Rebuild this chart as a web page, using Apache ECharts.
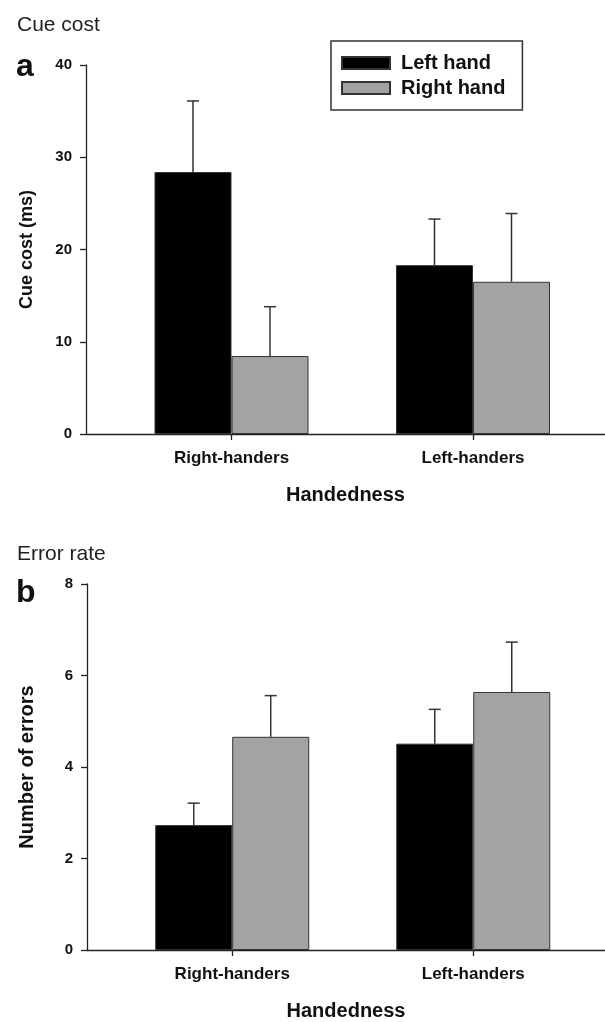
<!DOCTYPE html>
<html>
<head>
<meta charset="utf-8">
<script src="https://cdn.jsdelivr.net/npm/echarts@6/dist/echarts.min.js"></script>
<style>
html,body{margin:0;padding:0;background:#fff;}
#chart{width:605px;height:1022px;}
</style>
</head>
<body>
<div id="chart"></div>
<script>
// ---- data ----
var categories = ['Right-handers', 'Left-handers'];
var seriesNames = ['Left hand', 'Right hand'];
// Panel a: cue cost (ms)
var cueLeftHand = [28.4, 18.3];
var cueLeftHandSE = [7.7, 5.0];
var cueRightHand = [8.45, 16.5];
var cueRightHandSE = [5.35, 7.4];
// Panel b: number of errors
var errLeftHand = [2.73, 4.51];
var errLeftHandSE = [0.48, 0.75];
var errRightHand = [4.66, 5.64];
var errRightHandSE = [0.9, 1.09];
var cueTicks = [0, 10, 20, 30, 40];
var errTicks = [0, 2, 4, 6, 8];
var catPos = [0, 1];

var FONT = '"Liberation Sans", Arial, Helvetica, sans-serif';
var AXIS = '#222';
var BAR_W = 77;
var X_MIN = -0.6025, X_MAX = 1.5466;

function errData(vals, se) {
  return vals.map(function (v, i) { return [catPos[i], v, v + se[i]]; });
}
function errSeries(name, vals, se, idx, offset) {
  return {
    type: 'custom', name: name + ' err', xAxisIndex: idx, yAxisIndex: idx,
    silent: true, z: 3,
    data: errData(vals, se),
    renderItem: function (params, api) {
      var base = api.coord([api.value(0), api.value(1)]);
      var top = api.coord([api.value(0), api.value(2)]);
      var x = base[0] + offset;
      var h = 6;
      return {
        type: 'group',
        children: [
          { type: 'line', shape: { x1: x, y1: base[1], x2: x, y2: top[1] }, style: { stroke: '#333', lineWidth: 1.5 } },
          { type: 'line', shape: { x1: x - h, y1: top[1], x2: x + h, y2: top[1] }, style: { stroke: '#333', lineWidth: 1.5 } }
        ]
      };
    }
  };
}
function barSeries(name, vals, idx, color) {
  return {
    type: 'bar', name: name, xAxisIndex: idx, yAxisIndex: idx,
    data: vals.map(function (v, i) { return [catPos[i], v]; }),
    barWidth: BAR_W, barGap: '0%',
    itemStyle: { color: color, borderColor: '#333', borderWidth: 1 },
    z: 2
  };
}
function xAxis(idx) {
  return {
    type: 'value', gridIndex: idx, min: X_MIN, max: X_MAX,
    name: 'Handedness', nameLocation: 'middle', nameGap: 51,
    nameTextStyle: { fontFamily: FONT, fontWeight: 'bold', fontSize: 20, color: '#111' },
    axisLine: { show: true, onZero: false, lineStyle: { color: AXIS, width: 1.3 } },
    axisTick: { show: true, customValues: catPos, length: 6, lineStyle: { color: AXIS, width: 1.3 } },
    axisLabel: {
      customValues: catPos,
      formatter: function (v) { return categories[Math.round(v)]; },
      fontFamily: FONT, fontWeight: 'bold', fontSize: 17, color: '#111', margin: 16
    },
    splitLine: { show: false }
  };
}
function yAxis(idx, name, ticks, nameSize) {
  return {
    type: 'value', gridIndex: idx, min: ticks[0], max: ticks[ticks.length - 1],
    interval: ticks[1] - ticks[0],
    name: name, nameLocation: 'middle', nameGap: 50,
    nameTextStyle: { fontFamily: FONT, fontWeight: 'bold', fontSize: nameSize, color: '#111' },
    axisLine: { show: true, onZero: false, lineStyle: { color: AXIS, width: 1.3 } },
    axisTick: { show: true, length: 6, lineStyle: { color: AXIS, width: 1.3 } },
    axisLabel: { fontFamily: FONT, fontWeight: 'bold', fontSize: 15, color: '#111', margin: 14 },
    splitLine: { show: false }
  };
}

var chart = echarts.init(document.getElementById('chart'), null, { renderer: 'canvas' });
var half = BAR_W / 2;
chart.setOption({
  backgroundColor: '#fff',
  animation: false,
  title: [
    { text: 'Cue cost', left: 12, top: 10, textStyle: { fontFamily: FONT, fontWeight: 'normal', fontSize: 21, color: '#222' } },
    { text: 'a', left: 11, top: 46, textStyle: { fontFamily: FONT, fontWeight: 'bold', fontSize: 32, color: '#111' } },
    { text: 'Error rate', left: 12, top: 539, textStyle: { fontFamily: FONT, fontWeight: 'normal', fontSize: 21, color: '#222' } },
    { text: 'b', left: 11, top: 572, textStyle: { fontFamily: FONT, fontWeight: 'bold', fontSize: 32, color: '#111' } }
  ],
  legend: {
    data: seriesNames, orient: 'vertical', left: 331, top: 41,
    padding: [12, 17, 12, 10], itemGap: 5, itemWidth: 48, itemHeight: 12,
    icon: 'rect',
    borderColor: '#333', borderWidth: 1.5,
    textStyle: { fontFamily: FONT, fontWeight: 'bold', fontSize: 20, color: '#111', padding: [0, 0, 0, 6] }
  },
  grid: [
    { left: 86, right: 0, top: 65, height: 369 },
    { left: 87, right: 0, top: 584, height: 371 }
  ],
  xAxis: [xAxis(0), xAxis(1)],
  yAxis: [yAxis(0, 'Cue cost (ms)', cueTicks, 18), yAxis(1, 'Number of errors', errTicks, 20)],
  series: [
    barSeries(seriesNames[0], cueLeftHand, 0, '#000'),
    barSeries(seriesNames[1], cueRightHand, 0, '#a3a3a3'),
    barSeries(seriesNames[0], errLeftHand, 1, '#000'),
    barSeries(seriesNames[1], errRightHand, 1, '#a3a3a3'),
    errSeries(seriesNames[0], cueLeftHand, cueLeftHandSE, 0, -half),
    errSeries(seriesNames[1], cueRightHand, cueRightHandSE, 0, half),
    errSeries(seriesNames[0], errLeftHand, errLeftHandSE, 1, -half),
    errSeries(seriesNames[1], errRightHand, errRightHandSE, 1, half)
  ]
});
</script>
</body>
</html>
